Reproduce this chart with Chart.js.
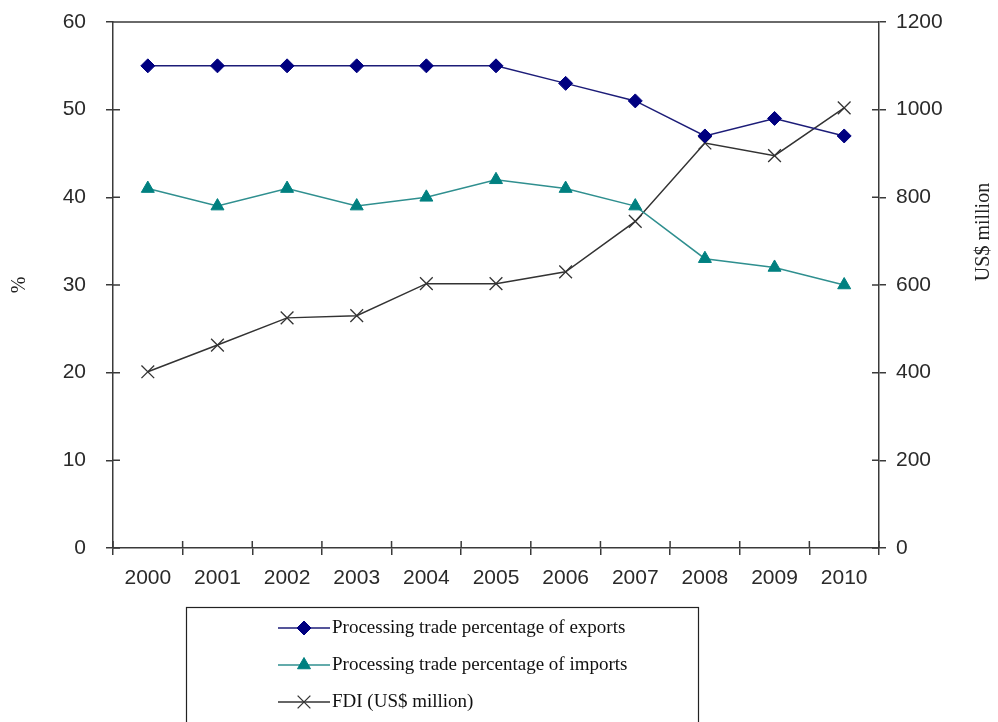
<!DOCTYPE html>
<html>
<head>
<meta charset="utf-8">
<script src="https://cdn.jsdelivr.net/npm/chart.js@4/dist/chart.umd.min.js"></script>
<style>
  html, body { margin: 0; padding: 0; background: #fff; }
  #wrap { width: 998px; height: 722px; }
</style>
</head>
<body>
<div id="wrap"><canvas id="tradeChart" width="998" height="722"></canvas></div>
<script>
// data
const years = ['2000', '2001', '2002', '2003', '2004', '2005', '2006', '2007', '2008', '2009', '2010'];
const exportShare = [55, 55, 55, 55, 55, 55, 53, 51, 47, 49, 47];
const importShare = [41, 39, 41, 39, 40, 42, 41, 39, 33, 32, 30];
const fdiMillion = [402, 463, 525, 530, 603, 603, 630, 745, 924, 895, 1004];
const leftTicks = [0, 10, 20, 30, 40, 50, 60];
const rightTicks = [0, 200, 400, 600, 800, 1000, 1200];

const axisColor = '#3a3a3a';
const tickFont = { family: 'Liberation Sans', size: 21 };
const serif = 'Liberation Serif';

// ticks in the reference cross the axis, so draw the inner half too
const frame = {
    id: 'frame',
    afterDraw(chart) {
        const c = chart.ctx, a = chart.chartArea;
        const x = chart.scales.x, y = chart.scales.y, y1 = chart.scales.y1;
        c.save();
        c.strokeStyle = axisColor;
        c.lineWidth = 1.5;
        c.beginPath();
        c.moveTo(a.left, a.top); c.lineTo(a.right, a.top);
        const n = years.length;
        for (let i = 0; i <= n; i++) {
            const px = x.left + i * x.width / n;
            c.moveTo(px, a.bottom); c.lineTo(px, a.bottom - 7);
        }
        y.ticks.forEach(t => {
            const py = y.getPixelForValue(t.value);
            c.moveTo(a.left, py); c.lineTo(a.left + 7, py);
        });
        y1.ticks.forEach(t => {
            const py = y1.getPixelForValue(t.value);
            c.moveTo(a.right, py); c.lineTo(a.right - 7, py);
        });
        c.stroke();

        // right axis title, reading upwards
        c.fillStyle = '#222';
        c.font = '20px ' + serif;
        c.textAlign = 'center';
        c.textBaseline = 'middle';
        c.translate(984, 232);
        c.rotate(-Math.PI / 2);
        c.fillText('US$ million', 0, 0);
        c.restore();

        // boxed legend under the chart
        c.save();
        c.strokeStyle = '#222';
        c.lineWidth = 1.2;
        c.strokeRect(186.5, 607.5, 512, 140);
        c.font = '19px ' + serif;
        c.textBaseline = 'middle';
        c.textAlign = 'left';
        chart.data.datasets.forEach((ds, i) => {
            const ly = 628 + i * 37;
            c.strokeStyle = ds.borderColor;
            c.lineWidth = ds.borderWidth;
            c.beginPath();
            c.moveTo(278, ly); c.lineTo(330, ly);
            c.stroke();
            c.fillStyle = ds.pointBackgroundColor;
            c.strokeStyle = ds.pointBorderColor;
            c.lineWidth = ds.pointBorderWidth;
            Chart.helpers.drawPoint(c, {
                pointStyle: ds.pointStyle, radius: ds.pointRadius, rotation: 0,
                borderWidth: ds.pointBorderWidth
            }, 304, ly);
            c.fillStyle = '#111';
            c.fillText(ds.label, 332, ly);
        });
        c.restore();
    }
};

function fixVertical(width) {
    return function (scale) {
        scale.width = width;
        scale.paddingTop = 0;
        scale.paddingBottom = 0;
    };
}

const ctx = document.getElementById('tradeChart').getContext('2d');
const tradeChart = new Chart(ctx, {
    type: 'line',
    data: {
        labels: years,
        datasets: [{
            label: 'Processing trade percentage of exports',
            data: exportShare,
            yAxisID: 'y',
            borderColor: '#1c1c78',
            borderWidth: 1.5,
            pointStyle: 'rectRot',
            pointRadius: 7,
            pointBackgroundColor: '#000080',
            pointBorderColor: '#000080',
            pointBorderWidth: 1
        }, {
            label: 'Processing trade percentage of imports',
            data: importShare,
            yAxisID: 'y',
            borderColor: '#2f8f8f',
            borderWidth: 1.5,
            pointStyle: 'triangle',
            pointRadius: 7.5,
            pointBackgroundColor: '#008080',
            pointBorderColor: '#008080',
            pointBorderWidth: 1
        }, {
            label: 'FDI (US$ million)',
            data: fdiMillion,
            yAxisID: 'y1',
            borderColor: '#333333',
            borderWidth: 1.5,
            pointStyle: 'crossRot',
            pointRadius: 9,
            pointBackgroundColor: '#333333',
            pointBorderColor: '#333333',
            pointBorderWidth: 1.3
        }]
    },
    options: {
        responsive: false,
        animation: false,
        layout: { padding: { top: 22, left: 0, right: 0, bottom: 0 } },
        plugins: {
            legend: { display: false },
            tooltip: { enabled: false }
        },
        scales: {
            x: {
                offset: true,
                grid: { offset: true, drawOnChartArea: false, tickLength: 7, color: axisColor, lineWidth: 1.5 },
                border: { color: axisColor, width: 1.5 },
                ticks: { font: tickFont, color: '#2a2a2a', padding: 11, maxRotation: 0 },
                afterFit(scale) { scale.height = 174; scale.paddingLeft = 0; scale.paddingRight = 0; }
            },
            y: {
                position: 'left',
                min: 0, max: 60,
                afterBuildTicks(scale) { scale.ticks = leftTicks.map(v => ({ value: v })); },
                grid: { drawOnChartArea: false, tickLength: 7, color: axisColor, lineWidth: 1.5 },
                border: { color: axisColor, width: 1.5 },
                ticks: { font: tickFont, color: '#2a2a2a', padding: 20, callback: v => String(v) },
                title: { display: true, text: '%', font: { family: serif, size: 20 }, color: '#222', padding: { top: 8, bottom: 0 } },
                afterFit: fixVertical(113)
            },
            y1: {
                position: 'right',
                min: 0, max: 1200,
                afterBuildTicks(scale) { scale.ticks = rightTicks.map(v => ({ value: v })); },
                grid: { drawOnChartArea: false, tickLength: 7, color: axisColor, lineWidth: 1.5 },
                border: { color: axisColor, width: 1.5 },
                ticks: { font: tickFont, color: '#2a2a2a', padding: 10, callback: v => String(v) },
                afterFit: fixVertical(119)
            }
        }
    },
    plugins: [frame]
});
</script>
</body>
</html>
